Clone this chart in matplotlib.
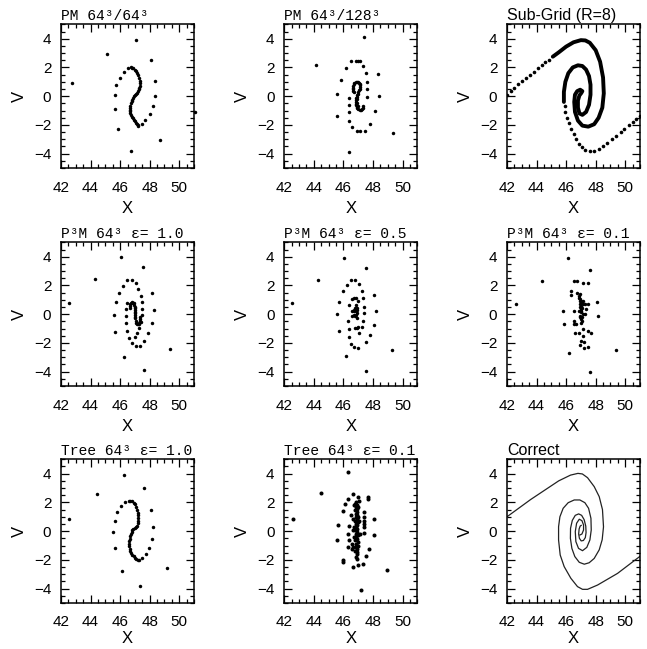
import numpy as np
import matplotlib.pyplot as plt
from matplotlib.ticker import MultipleLocator

# phase-space particle positions (x, v)
pm64 = [(42.75, 0.95), (45.09, 2.91), (47.07, 3.88), (48.07, 2.49), (48.68, -3.07),
        (46.75, -3.79), (45.86, -2.28), (51.05, -1.09),
        (46.52, 1.98), (46.27, 1.67), (45.98, 1.30), (45.75, 0.77), (45.66, 0.05), (45.66, -0.88),
        (48.36, 1.05), (48.36, 0.00), (48.23, -0.70), (48.00, -1.26), (47.70, -1.63), (47.45, -1.91), (47.20, -2.05),
        (46.73, 2.00), (46.81, 1.97), (46.89, 1.93), (46.98, 1.85), (47.07, 1.74), (47.14, 1.60), (47.20, 1.44),
        (47.27, 1.27), (47.32, 1.09), (47.33, 0.90), (47.32, 0.74), (47.30, 0.60), (47.27, 0.47), (47.21, 0.35),
        (47.14, 0.23), (47.07, 0.15), (47.00, 0.07), (46.95, -0.02), (46.89, -0.12), (46.83, -0.24), (46.77, -0.35),
        (46.72, -0.50), (46.68, -0.65), (46.65, -0.79), (46.64, -0.93), (46.65, -1.05), (46.68, -1.16),
        (46.73, -1.30), (46.80, -1.44), (46.86, -1.55), (46.93, -1.65), (47.00, -1.76), (47.07, -1.86),
        (47.13, -1.94), (47.20, -2.02)]

pm128 = [(44.16, 2.19), (47.39, 4.14), (46.36, -3.91), (49.36, -2.56),
         (46.52, 2.47), (46.82, 2.47), (46.98, 2.47), (47.11, 2.42), (47.34, 2.07), (47.55, 1.60),
         (47.61, 1.00), (47.61, 0.53), (47.57, -0.05), (48.36, 1.51), (48.43, 0.00), (48.16, -1.05),
         (47.77, -1.91), (47.43, -2.42), (47.14, -2.44), (46.89, -2.44), (46.59, -2.14), (46.39, -1.70),
         (46.36, -1.12), (46.36, -0.63), (46.41, -0.12), (46.20, 1.98), (45.82, 1.16), (45.55, 0.12),
         (45.55, -1.35),
         (46.91, 1.00), (46.99, 0.99), (47.07, 0.95), (47.12, 0.86), (47.14, 0.77), (47.13, 0.65),
         (47.11, 0.53), (47.07, 0.41), (47.02, 0.30), (46.97, 0.18), (46.93, 0.07), (46.89, -0.05),
         (46.86, -0.16), (46.85, -0.28), (46.84, -0.40), (46.85, -0.52), (46.86, -0.63), (46.90, -0.74),
         (46.95, -0.84), (47.02, -0.92), (47.09, -0.98), (47.17, -0.96), (47.25, -0.91), (47.30, -0.80),
         (47.34, -0.67), (46.83, 0.97), (46.75, 0.91), (46.70, 0.82), (46.66, 0.72), (46.64, 0.60),
         (46.64, 0.49), (46.68, 0.39), (46.73, 0.30), (46.90, -0.20), (46.92, -0.45), (46.97, -0.70)]

p3m_10 = [(42.52, 0.80), (44.32, 2.42), (46.08, 3.96), (47.52, 3.26), (48.15, 1.50), (48.26, 0.29),
          (48.15, -0.64), (49.39, -2.45), (47.59, -3.89), (46.23, -2.96), (45.67, -1.24), (45.56, -0.03),
          (45.72, 0.82), (45.94, 1.49), (46.19, 1.96), (46.48, 2.35), (46.80, 2.40), (47.05, 2.16),
          (47.23, 1.75), (47.39, 1.26), (47.47, 0.82), (47.50, 0.34), (47.47, -0.08), (47.41, -0.55),
          (47.29, -0.96), (47.14, -1.31), (46.98, -1.59), (46.77, -2.01), (47.07, -2.22), (47.34, -2.22),
          (47.63, -1.84), (47.88, -1.31), (46.46, -1.17), (46.37, -0.64), (46.37, -0.10), (46.39, 0.36),
          (46.46, 0.75), (46.57, -1.64),
          (46.66, 0.45), (46.67, 0.57), (46.68, 0.68), (46.74, 0.77), (46.80, 0.82), (46.87, 0.80),
          (46.93, 0.75), (46.97, 0.64), (47.00, 0.52), (47.00, 0.40), (47.00, 0.28), (47.00, 0.17),
          (47.00, 0.05), (47.00, -0.06), (47.00, -0.17), (47.02, -0.30), (47.05, -0.48), (47.09, -0.59),
          (47.14, -0.68), (47.20, -0.69), (47.25, -0.66), (47.29, -0.58), (47.32, -0.48), (47.34, -0.33),
          (47.34, -0.17)]

p3m_05 = [(42.54, 0.77), (44.30, 2.39), (46.05, 3.94), (47.50, 3.20), (48.04, 1.35), (48.19, 0.19),
          (48.05, -0.74), (49.30, -2.48), (47.54, -3.94), (46.19, -2.88), (45.69, -1.16), (45.56, 0.00),
          (45.72, 0.88), (45.94, 1.58), (46.21, 2.04), (46.50, 2.39), (46.79, 2.37), (47.05, 2.09),
          (47.23, 1.62), (47.34, 1.11), (47.36, 0.53), (47.36, 0.07), (47.34, -0.46), (47.25, -0.86),
          (47.05, -1.32), (46.39, -1.62), (46.48, -2.09), (46.73, -2.30), (47.00, -2.32), (47.56, -1.93),
          (47.81, -1.42), (46.32, -0.46), (46.37, -1.02), (46.39, 0.65), (46.59, 1.04), (46.73, 1.16),
          (46.86, 1.11), (47.00, 0.93), (46.77, -0.97), (46.89, -0.97), (47.00, -0.86),
          (46.77, 0.42), (46.82, 0.19), (46.86, -0.05), (46.91, -0.28), (46.73, -0.05), (46.73, 0.19),
          (46.95, 0.07), (46.95, 0.30), (46.88, 0.65), (46.59, 0.19), (46.59, -0.16), (46.80, -0.15),
          (46.90, 0.45), (46.70, 0.30)]

p3m_01 = [(42.61, 0.74), (44.36, 2.32), (46.10, 3.90), (47.63, 3.06), (48.08, 0.88), (48.17, -0.12),
          (49.36, -2.51), (47.61, -4.01), (46.17, -2.67), (45.87, -0.70), (45.76, 0.23), (46.32, 1.62),
          (46.32, 1.35), (46.55, 2.32), (46.77, 2.32), (47.11, 2.16), (47.45, 2.16), (46.77, 1.44),
          (46.89, 1.28), (47.00, 0.93), (47.11, 0.74), (47.27, 0.70), (47.45, 0.74), (47.34, 0.35),
          (46.55, 0.23), (46.50, -0.46), (46.55, -0.70), (46.68, -0.70), (46.62, -1.28), (46.89, -1.28),
          (47.11, -1.04), (47.45, -1.16), (47.70, -1.28), (47.11, -1.51), (47.00, -1.86), (46.93, -2.16),
          (47.18, -2.32), (47.45, -2.25), (47.18, -1.97),
          (46.93, 1.39), (46.95, 1.04), (46.98, 0.81), (47.00, 0.58), (47.00, 0.35), (46.98, 0.12),
          (46.95, -0.12), (46.98, -0.35), (47.05, -0.46), (46.91, -0.23), (46.89, 0.23), (47.07, 0.46),
          (47.11, 0.00), (46.91, 0.70), (46.86, 1.16), (47.27, 0.00), (47.16, 0.93), (47.02, 0.20),
          (47.05, -0.20), (46.95, 0.50), (47.02, -0.60), (46.96, 0.95)]

tree_10 = [(42.52, 0.86), (44.43, 2.60), (46.28, 3.94), (47.59, 2.99), (48.10, 1.44), (48.24, 0.28),
           (48.15, -0.53), (49.16, -2.58), (47.36, -3.83), (46.12, -2.74), (45.63, -1.18), (45.51, -0.07),
           (45.63, 0.70), (45.78, 1.32), (46.03, 1.76), (46.30, 2.06), (46.57, 2.13), (46.69, 2.12),
           (46.80, 2.09), (46.91, 1.99), (47.00, 1.86), (47.08, 1.68), (47.14, 1.48), (47.18, 1.29),
           (47.20, 1.09), (47.22, 0.90), (47.23, 0.70), (47.20, 0.54), (47.14, 0.39), (47.06, 0.29),
           (46.98, 0.21), (46.90, 0.15), (46.82, 0.09), (46.77, -0.05), (46.73, -0.19), (46.68, -0.36),
           (46.64, -0.53), (46.61, -0.70), (46.59, -0.88), (46.61, -1.05), (46.64, -1.23), (46.69, -1.38),
           (46.75, -1.53), (46.83, -1.65), (46.91, -1.76), (47.00, -1.86), (47.09, -1.95), (47.18, -1.99),
           (47.27, -2.00), (47.50, -1.90), (47.74, -1.58), (47.95, -1.16)]

tree_01 = [(42.61, 0.86), (44.48, 2.65), (46.32, 4.11), (48.98, -2.69), (47.16, -4.13), (45.60, 0.44),
           (45.58, -0.65), (45.94, 1.39), (46.10, 1.90), (46.32, 2.25), (46.66, 2.60), (47.00, 2.37),
           (47.05, 2.13), (47.63, 2.25), (47.68, 2.37), (47.38, 1.32), (47.38, 0.74), (47.38, 0.28),
           (48.08, 0.86), (48.08, -0.30), (47.74, -1.23), (47.56, -1.76), (47.34, -2.27), (47.00, -2.39),
           (46.66, -2.51), (45.94, -2.00), (45.94, -2.16), (46.32, -1.11), (46.39, -0.60), (46.28, -0.19),
           (46.39, 0.39), (46.50, 1.09), (47.40, 1.00), (47.36, 0.50), (47.40, -0.10),
           (46.79, 1.90), (46.82, 1.67), (46.79, 1.44), (46.84, 1.21), (46.82, 0.97), (46.79, 0.74),
           (46.84, 0.51), (46.82, 0.28), (46.79, 0.05), (46.84, -0.19), (46.82, -0.42), (46.79, -0.65),
           (46.84, -0.88), (46.82, -1.11), (46.79, -1.35), (46.89, -1.58), (46.86, -1.81), (46.95, 1.55),
           (46.95, 1.09), (46.98, 0.63), (46.95, 0.16), (47.00, -0.30), (46.98, -0.77), (46.93, -1.23),
           (46.62, 0.86), (46.64, 0.05), (46.59, -0.88), (47.07, 0.74), (47.09, -0.19), (46.55, -1.23),
           (46.66, -1.11), (46.71, 1.79), (46.90, 1.80), (46.92, 1.32), (46.90, 0.86), (46.92, 0.40),
           (46.90, -0.05), (46.92, -0.53), (46.90, -1.00), (46.92, -1.45), (46.95, -1.95), (47.02, 1.00),
           (47.02, -1.05), (46.72, 0.30), (46.70, -0.40), (46.88, 2.05), (47.00, 1.70)]

# sub-grid run: sparse dotted arms and thick inner spiral
sub_dots = [(42.00, 0.05), (42.25, 0.35), (42.50, 0.60), (42.75, 0.85), (43.00, 1.05), (43.30, 1.30),
            (43.55, 1.50), (43.80, 1.70), (44.10, 1.95), (44.35, 2.15), (44.60, 2.35), (44.85, 2.55),
            (51.00, -1.35), (50.75, -1.60), (50.50, -1.80), (50.25, -2.00), (49.95, -2.25), (49.70, -2.50),
            (49.40, -2.75), (49.10, -3.00), (48.80, -3.25), (48.50, -3.50), (48.20, -3.70), (47.90, -3.82),
            (47.60, -3.82), (47.30, -3.75), (47.05, -3.55), (46.85, -3.30), (46.65, -3.00), (46.50, -2.65),
            (46.35, -2.30), (46.20, -1.90), (46.05, -1.50), (45.95, -1.10), (45.90, -0.70)]
sub_a = [(45.10, 2.75), (45.50, 3.05), (46.00, 3.45), (46.50, 3.75), (47.00, 3.90), (47.30, 3.88),
         (47.60, 3.72), (48.00, 3.20), (48.30, 2.40), (48.50, 1.30), (48.55, 0.20), (48.45, -0.80),
         (48.20, -1.50), (47.90, -1.95), (47.50, -2.12), (47.10, -2.05), (46.80, -1.70), (46.60, -1.10),
         (46.55, -0.40), (46.60, 0.10), (46.75, 0.35), (46.95, 0.45), (47.10, 0.35)]
sub_b = [(45.85, -0.40), (45.85, 0.30), (45.95, 1.00), (46.15, 1.60), (46.45, 2.00), (46.80, 2.15),
         (47.10, 2.10), (47.35, 1.85), (47.55, 1.40), (47.65, 0.80), (47.65, 0.10), (47.55, -0.60),
         (47.35, -1.10), (47.10, -1.30), (46.90, -1.20), (46.80, -0.80), (46.80, -0.30), (46.90, 0.05),
         (47.05, 0.25)]

# exact solution: two spiral arms
correct_a = [(42.00, 1.00), (43.60, 2.20), (45.50, 3.50), (46.30, 3.90), (46.80, 4.02), (47.10, 3.98),
             (47.45, 3.72), (47.90, 3.10), (48.24, 2.40), (48.46, 1.50), (48.53, 0.30), (48.44, -0.60),
             (48.24, -1.30), (47.90, -1.90), (47.56, -2.20), (47.23, -2.30), (46.89, -2.17), (46.59, -1.77),
             (46.39, -1.20), (46.29, -0.50), (46.30, 0.20), (46.42, 0.75), (46.62, 1.10), (46.85, 1.20),
             (47.05, 1.10), (47.22, 0.80), (47.33, 0.35), (47.35, -0.10), (47.30, -0.45), (47.17, -0.65),
             (47.02, -0.68), (46.90, -0.50), (46.85, -0.20), (46.88, 0.15), (46.95, 0.35), (47.02, 0.40)]
correct_b = [(51.00, -1.75), (49.48, -2.94), (48.13, -3.75), (47.45, -4.05), (47.11, -4.05), (46.77, -3.86),
             (46.32, -3.28), (45.87, -2.47), (45.60, -1.66), (45.49, -0.62), (45.49, 0.31), (45.58, 1.00),
             (45.80, 1.59), (46.14, 1.98), (46.55, 2.17), (46.93, 2.17), (47.27, 1.98), (47.52, 1.59),
             (47.68, 0.89), (47.70, 0.08), (47.61, -0.61), (47.40, -1.13), (47.11, -1.36), (46.84, -1.20),
             (46.66, -0.73), (46.62, -0.03), (46.71, 0.55), (46.89, 0.83), (47.07, 0.73), (47.18, 0.43),
             (47.18, 0.08), (47.07, -0.20), (46.93, -0.27)]

titles = ["PM 64³/64³", "PM 64³/128³", "Sub-Grid (R=8)",
          "P³M 64³ ε= 1.0", "P³M 64³ ε= 0.5", "P³M 64³ ε= 0.1",
          "Tree 64³ ε= 1.0", "Tree 64³ ε= 0.1", "Correct"]
mono = ['Liberation Mono', 'DejaVu Sans']
sans = ['Liberation Sans', 'DejaVu Sans']
title_fonts = [mono, mono, sans, mono, mono, mono, mono, mono, sans]
title_sizes = [10.5, 10.5, 11.5, 10.5, 10.5, 10.5, 10.5, 10.5, 11.5]

fig = plt.figure(figsize=(6.47, 6.49), dpi=100)
lefts = [0.0943, 0.4394, 0.7836]
bottoms = [0.7411, 0.4052, 0.0709]
axes = []
for r in range(3):
    for c in range(3):
        axes.append(fig.add_axes([lefts[c], bottoms[r], 0.2056, 0.2214]))

scatter_sets = {0: pm64, 1: pm128, 3: p3m_10, 4: p3m_05, 5: p3m_01, 6: tree_10, 7: tree_01}
for i, pts in scatter_sets.items():
    a = np.array(pts)
    size = 2.9 if i == 7 else 2.5
    axes[i].plot(a[:, 0], a[:, 1], 'o', color='black', ms=size, mec='none', clip_on=False)

a = np.array(sub_dots)
axes[2].plot(a[:, 0], a[:, 1], 'o', color='black', ms=2.6, mec='none')
for arm in (sub_a, sub_b):
    a = np.array(arm)
    axes[2].plot(a[:, 0], a[:, 1], '-', color='black', lw=2.8, solid_capstyle='round')

for arm in (correct_a, correct_b):
    a = np.array(arm)
    axes[8].plot(a[:, 0], a[:, 1], '-', color='#222222', lw=0.9)

for i, ax in enumerate(axes):
    ax.set_xlim(42, 51)
    ax.set_ylim(-5, 5)
    ax.xaxis.set_major_locator(MultipleLocator(2))
    ax.xaxis.set_minor_locator(MultipleLocator(0.5))
    ax.yaxis.set_major_locator(MultipleLocator(2))
    ax.yaxis.set_minor_locator(MultipleLocator(0.5))
    ax.tick_params(which='both', direction='in', top=True, right=True, width=0.9)
    ax.tick_params(which='major', length=6)
    ax.tick_params(which='minor', length=3)
    ax.tick_params(axis='x', pad=9)
    ax.tick_params(axis='y', pad=7)
    for lab in ax.get_xticklabels() + ax.get_yticklabels():
        lab.set_family(sans)
        lab.set_fontsize(11)
    for s in ax.spines.values():
        s.set_linewidth(1.1)
    # bottom row sits at the figure edge, keep its X label inside
    xpad = 1 if i >= 6 else 5
    ax.set_xlabel('X', family=sans, fontsize=12, labelpad=xpad)
    ax.set_ylabel('V', family=sans, fontsize=12, labelpad=5)
    ax.set_title(titles[i], loc='left', pad=3, fontsize=title_sizes[i], family=title_fonts[i])

plt.savefig('out.png', dpi=100)
